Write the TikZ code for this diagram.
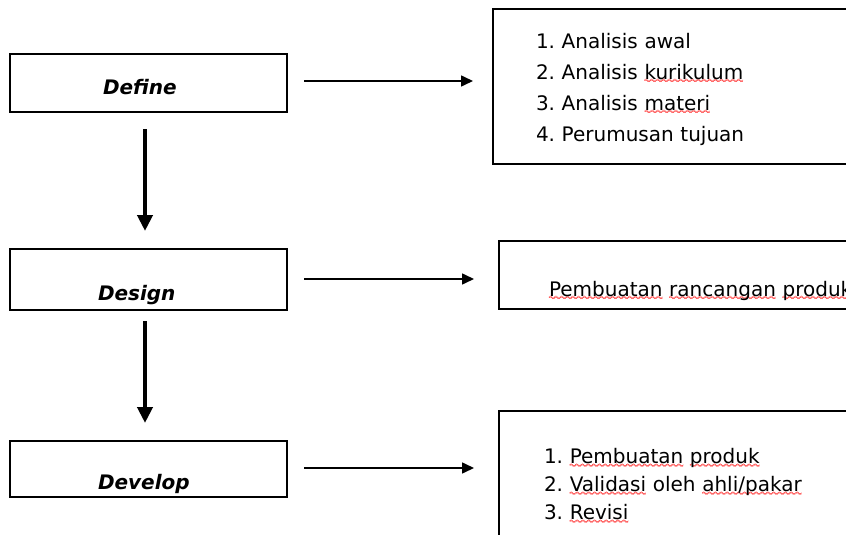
\documentclass[tikz,border=0pt]{standalone}
\usepackage{fontspec}
\setmainfont{DejaVu Sans}
\usetikzlibrary{positioning,arrows.meta}
\font\wavefont=lasy10 at 8.5pt
\newsavebox\spellbox
\newcommand\wavy[1]{\rlap{\textcolor{red}{\lower#1\hbox to\wd\spellbox{\xleaders\hbox{\wavefont\char58}\hfil}}}}
\newcommand\spell[1]{\sbox\spellbox{#1}\leavevmode\wavy{3.6pt}\wavy{4pt}\wavy{4.4pt}\usebox\spellbox}

\begin{document}
\begin{tikzpicture}[x=1pt,y=-1pt,
  phase/.style={rectangle,draw,line width=2pt,text width=101pt,inner xsep=88pt,inner ysep=0pt,align=left,font=\fontsize{20}{24}\selectfont\bfseries\itshape},
  list/.style={rectangle,draw,line width=2pt,anchor=north west,align=left},
  flow/.style={-{Triangle[width=11pt,length=12pt]},line width=1.6pt},
  down/.style={-{Triangle[width=15pt,length=16pt]},line width=4pt}
]
  \useasboundingbox (0,0) rectangle (846,535);
  \clip (0,0) rectangle (846,535);

  \node[phase,text height=41pt,text depth=17pt] (define) at (148.5,83) {\hspace*{5pt}Define};
  \node[phase,text height=51pt,text depth=10pt,below=135pt of define] (design) {Design};
  \node[phase,text height=48pt,text depth=8pt,below=129pt of design] (develop) {Develop};

  \node[list,text width=300pt,inner xsep=43pt,minimum height=155pt,font=\fontsize{20}{31}\selectfont\frenchspacing] (defbox) at (492,8)
    {\rule{0pt}{20.4pt}1. Analisis awal\\2. Analisis \spell{kurikulum}\\3. Analisis \spell{materi}\\4. Perumusan tujuan};
  \node[list,text width=330pt,inner xsep=50pt,inner ysep=0pt,text height=55pt,text depth=13pt,font=\fontsize{20}{24}\selectfont] (desbox) at (498,240)
    {\spell{Pembuatan} \spell{rancangan} \spell{produk}};
  \node[list,text width=320pt,inner xsep=45pt,minimum height=151pt,font=\fontsize{20}{28}\selectfont\frenchspacing] (devbox) at (498,410)
    {1. \spell{Pembuatan} \spell{produk}\\2. \spell{Validasi} oleh \spell{ahli/pakar}\\3. \spell{Revisi}};

  \draw[down,shorten <=16pt,shorten >=17pt] ([xshift=-3.5pt]define.south) -- ([xshift=-3.5pt]design.north);
  \draw[down,shorten <=10pt,shorten >=17pt] ([xshift=-3.5pt]design.south) -- ([xshift=-3.5pt]develop.north);

  \draw[flow,shorten <=16pt,shorten >=19pt] ([yshift=2pt]define.east) -- ([yshift=2pt]define.east -| defbox.west);
  \draw[flow,shorten <=16pt,shorten >=24pt] ([yshift=0.5pt]design.east) -- ([yshift=0.5pt]design.east -| desbox.west);
  \draw[flow,shorten <=16pt,shorten >=24pt] ([yshift=1pt]develop.east) -- ([yshift=1pt]develop.east -| devbox.west);
\end{tikzpicture}
\end{document}
